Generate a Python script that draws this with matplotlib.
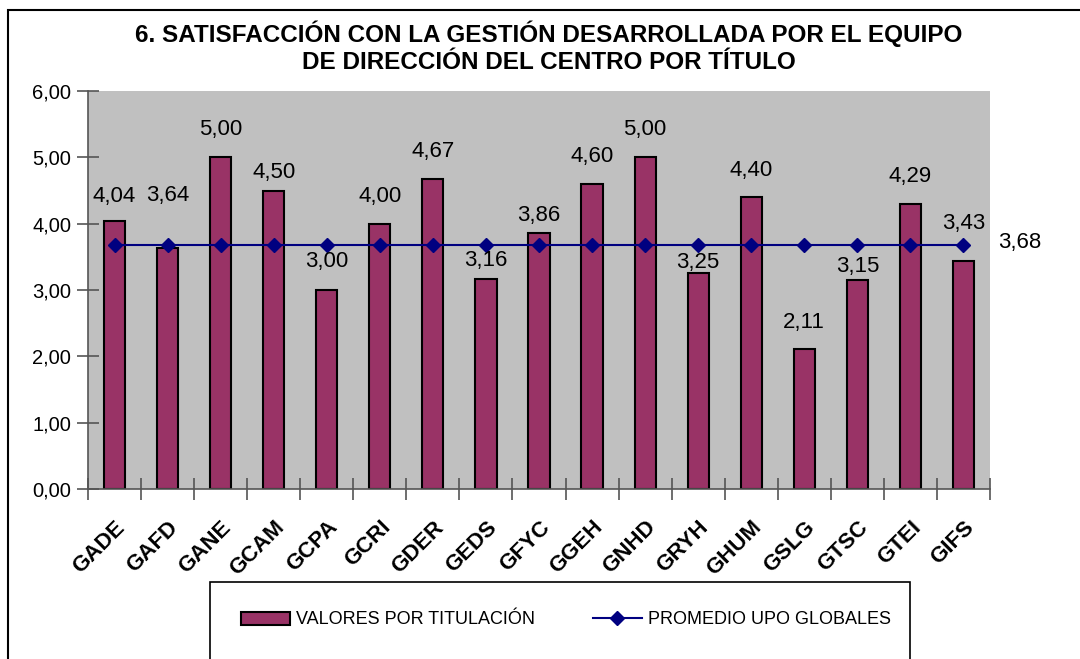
import matplotlib
matplotlib.use('Agg')
import matplotlib.pyplot as plt
from matplotlib.patches import Rectangle, Patch
from matplotlib.lines import Line2D
import numpy as np

categorias = ['GADE', 'GAFD', 'GANE', 'GCAM', 'GCPA', 'GCRI', 'GDER', 'GEDS', 'GFYC',
              'GGEH', 'GNHD', 'GRYH', 'GHUM', 'GSLG', 'GTSC', 'GTEI', 'GIFS']
valores = [4.04, 3.64, 5.00, 4.50, 3.00, 4.00, 4.67, 3.16, 3.86,
           4.60, 5.00, 3.25, 4.40, 2.11, 3.15, 4.29, 3.43]
promedio = 3.68

# desplazamiento vertical (pixeles) de cada etiqueta sobre su barra
desp_etiquetas = [25, 52, 28, 18, 28, 27, 28, 19, 17,
                  27, 28, 11, 27, 27, 14, 28, 38]

FUENTE = ['Liberation Sans', 'DejaVu Sans']


def fmt(v):
    return f"{v:.2f}".replace('.', ',')


W, H = 1080, 659
fig = plt.figure(figsize=(W / 100, H / 100), dpi=100)
ax = fig.add_axes([88 / W, 1 - 489 / H, (990 - 88) / W, (489 - 91) / H])
ax.set_facecolor('#c0c0c0')

x = np.arange(len(categorias))
ax.bar(x, valores, width=0.4, color='#993366', edgecolor='black', linewidth=1.5, zorder=2)
ax.plot(x, [promedio] * len(x), color='#000080', linewidth=1.5, marker='D',
        markersize=7, zorder=3)

for xi, v, d in zip(x, valores, desp_etiquetas):
    ax.annotate(fmt(v), (xi, v), xytext=(0, d), textcoords='offset pixels',
                ha='center', va='center', fontsize=16, family=FUENTE, zorder=4)
ax.annotate(fmt(promedio), (x[-1], promedio), xytext=(56, 2), textcoords='offset pixels',
            ha='center', va='center', fontsize=16, family=FUENTE, annotation_clip=False)

ax.set_xlim(-0.5, len(categorias) - 0.5)
ax.set_ylim(0, 6)
ax.set_yticks(np.arange(0, 7, 1))
ax.set_yticklabels([fmt(v) for v in np.arange(0, 7, 1)], family=FUENTE, fontsize=14.5)
ax.set_xticks(x)
ax.set_xticklabels(categorias, rotation=45, ha='right', va='top', rotation_mode='anchor',
                   fontsize=16, fontweight='bold', family=FUENTE)
ax.set_xticks(np.arange(-0.5, len(categorias), 1), minor=True)
ax.tick_params(axis='x', which='major', length=0, pad=20)
ax.tick_params(axis='x', which='minor', direction='inout', length=16, color='#555555', width=1.2)
ax.tick_params(axis='y', direction='inout', length=16, color='#555555', width=1.2, pad=4)
for s in ['top', 'right']:
    ax.spines[s].set_visible(False)
for s in ['left', 'bottom']:
    ax.spines[s].set_color('#555555')
    ax.spines[s].set_linewidth(1.2)

fig.text(549 / W, 1 - 47 / H,
         '6. SATISFACCIÓN CON LA GESTIÓN DESARROLLADA POR EL EQUIPO\nDE DIRECCIÓN DEL CENTRO POR TÍTULO',
         ha='center', va='center', fontsize=17.5, fontweight='bold', family=FUENTE, linespacing=1.2)

# marco del gráfico y de la leyenda
fig.patches.append(Rectangle((8 / W, -0.1), 1.2, 1 - 10 / H + 0.1, transform=fig.transFigure,
                             fill=False, edgecolor='black', linewidth=1.5))
fig.patches.append(Rectangle((210 / W, -0.1), 700 / W, 1 - 582 / H + 0.1, transform=fig.transFigure,
                             fill=False, edgecolor='black', linewidth=1.2))

handles = [Patch(facecolor='#993366', edgecolor='black', linewidth=1.5),
           Line2D([], [], color='#000080', linewidth=1.5, marker='D', markersize=7)]
fig.legend(handles, ['VALORES POR TITULACIÓN', 'PROMEDIO UPO GLOBALES'], ncol=2,
           loc='center', bbox_to_anchor=(566 / W, 1 - 620 / H), frameon=False,
           prop={'family': FUENTE, 'size': 13}, handlelength=2.7, handleheight=0.75,
           handletextpad=0.35, columnspacing=3.2)

fig.savefig('out.png', dpi=100)
